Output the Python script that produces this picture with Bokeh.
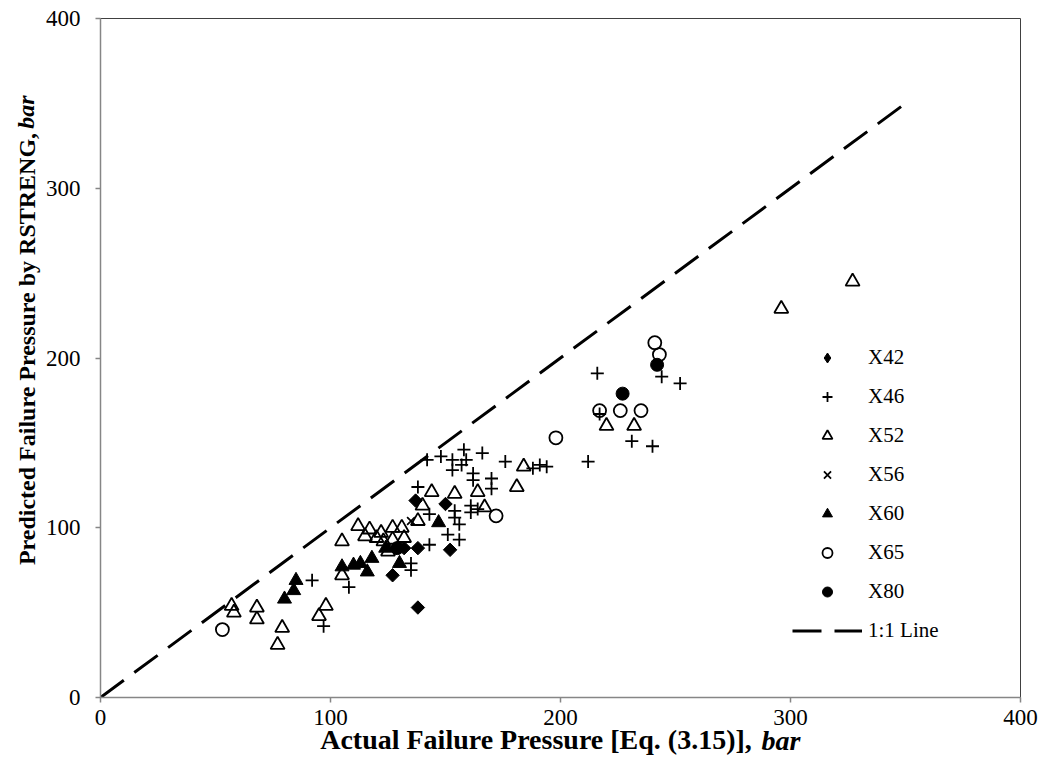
from math import pi
from bokeh.plotting import figure
from bokeh.models import FixedTicker, Legend, LegendItem, LinearAxis, Range1d
from bokeh.embed import file_html
from bokeh.resources import INLINE

# ---------------- data (actual, predicted) in bar ----------------
x42_actual = [127, 132, 137, 138, 138, 150, 152]
x42_pred = [72, 88, 116, 88, 53, 114, 87]

x46_actual = [92, 108, 97, 135, 135, 143, 143, 138, 142, 148, 153, 158, 159, 166,
              153, 157, 162, 162, 170, 170, 176, 188, 191, 194, 212, 216, 217, 231,
              240, 244, 252, 151, 156, 154, 154, 156, 161, 161, 164]
x46_pred = [69, 65, 42, 79, 75, 90, 108, 124, 140, 142, 140, 146, 140, 144,
            134, 137, 132, 128, 129, 123, 139, 135, 137, 136, 139, 191, 167, 151,
            148, 189, 185, 96, 93, 110, 106, 102, 113, 109, 111]

x52_actual = [57, 58, 68, 68, 79, 77, 98, 95, 105, 105, 112, 117, 115, 120, 122,
              127, 127, 131, 132, 125, 123, 138, 140, 144, 154, 164, 167, 181, 184,
              220, 232, 296, 327]
x52_pred = [54, 50, 53, 46, 41, 31, 54, 48, 72, 92, 101, 99, 95, 94, 97,
            100, 93, 100, 94, 86, 92, 104, 113, 121, 120, 121, 112, 124, 136,
            160, 160, 229, 245]

x56_actual = [135]
x56_pred = [104]

x60_actual = [80, 84, 85, 105, 110, 113, 116, 118, 124, 130, 147]
x60_pred = [58, 63, 69, 77, 78, 79, 74, 82, 88, 79, 103]

x65_actual = [53, 172, 198, 217, 226, 235, 241, 243]
x65_pred = [40, 107, 153, 169, 169, 169, 209, 202]

x80_actual = [129, 227, 242]
x80_pred = [88, 179, 196]

line_x = [0, 350]
line_y = [0, 350]

axis_ticks = [0, 100, 200, 300, 400]
series_names = ["X42", "X46", "X52", "X56", "X60", "X65", "X80", "1:1 Line"]

x_title_bold = "Actual Failure Pressure [Eq. (3.15)],"
y_title_bold = "Predicted Failure Pressure by RSTRENG,"
title_unit = "bar"

# ---------------- figure ----------------
W, H = 1043, 778
FL, FR, FT, FB = 100, 1020, 18, 697
p = figure(width=W, height=H, x_range=(0, 400), y_range=(0, 400),
           output_backend="svg", toolbar_location=None,
           min_border_left=FL, min_border_right=W - FR,
           min_border_top=FT, min_border_bottom=H - FB)
p.background_fill_color = "white"
p.border_fill_color = "white"
p.outline_line_color = "#404040"
p.outline_line_width = 1
p.xgrid.visible = False
p.ygrid.visible = False
# off-screen range used only to carry the legend key of the X42 diamonds
p.extra_y_ranges = {"legend_key": Range1d(start=10000, end=10001)}

SERIF = "Liberation Serif"
XTF = 28
YTF = 24
NB = "\u00a0"

for ax in (p.xaxis[0], p.yaxis[0]):
    ax.ticker = FixedTicker(ticks=axis_ticks, minor_ticks=[])
    ax.axis_line_color = "#868686"
    ax.axis_line_width = 1.5
    ax.major_tick_line_color = "#868686"
    ax.major_tick_line_width = 1.5
    ax.major_tick_out = 5
    ax.major_tick_in = 0
    ax.minor_tick_out = 0
    ax.minor_tick_in = 0
    ax.major_label_text_font = SERIF
    ax.major_label_text_font_size = "23px"
    ax.major_label_text_color = "black"
    ax.axis_label_text_font = SERIF
    ax.axis_label_text_font_style = "bold"
    ax.axis_label_text_color = "black"
p.xaxis.axis_label_text_font_size = f"{XTF}px"
p.yaxis.axis_label_text_font_size = f"{YTF}px"
p.xaxis.major_label_standoff = 7
p.yaxis.major_label_standoff = 15

# bold parts (padded with no-break spaces so the italic unit can sit after them)
p.xaxis.axis_label = x_title_bold + NB * 7
p.xaxis.axis_label_standoff = -4
p.yaxis.axis_label = NB * 9 + y_title_bold + NB * 6
p.yaxis.axis_label_standoff = 3


def unit_axis(label, standoff, size):
    a = LinearAxis(ticker=FixedTicker(ticks=[], minor_ticks=[]), axis_label=label,
                   axis_label_standoff=standoff, axis_line_alpha=0,
                   major_tick_out=0, major_tick_in=0, minor_tick_out=0, minor_tick_in=0,
                   major_label_standoff=0)
    a.axis_label_text_font = SERIF
    a.axis_label_text_font_size = f"{size}px"
    a.axis_label_text_font_style = "bold italic"
    a.axis_label_text_color = "black"
    return a

p.add_layout(unit_axis(NB * 63 + title_unit, -33, XTF), "below")
p.add_layout(unit_axis(NB * 82 + title_unit, -28, YTF), "left")

# ---------------- series ----------------
LW = 1.8
r42 = p.scatter(x42_actual, x42_pred, marker="square", angle=pi / 4, size=9.5,
                fill_color="black", line_color="black", line_width=1)
r46 = p.scatter(x46_actual, x46_pred, marker="cross", size=13, line_color="black", line_width=LW)
r52 = p.scatter(x52_actual, x52_pred, marker="triangle", size=14, fill_alpha=0,
                line_color="black", line_width=LW)
r56 = p.scatter(x56_actual, x56_pred, marker="x", size=11, line_color="black", line_width=LW)
r60 = p.scatter(x60_actual, x60_pred, marker="triangle", size=14, fill_color="black",
                line_color="black", line_width=1)
r65 = p.scatter(x65_actual, x65_pred, marker="circle", size=13, fill_alpha=0,
                line_color="black", line_width=LW)
r80 = p.scatter(x80_actual, x80_pred, marker="circle", size=13, fill_color="black",
                line_color="black", line_width=1)
rl = p.line(line_x, line_y, line_color="black", line_width=3, line_dash="29 13")

# legend key for X42 (legend markers are drawn unrotated, so use a diamond marker
# on an off-screen range: it never shows inside the plot frame)
r42_key = p.scatter(x42_actual, x42_pred, marker="diamond", size=14,
                    fill_color="black", line_color="black", line_width=1,
                    y_range_name="legend_key")

# ---------------- legend ----------------
rends = [r42_key, r46, r52, r56, r60, r65, r80, rl]
items = [LegendItem(label=l, renderers=[r]) for l, r in zip(series_names, rends)]
legend = Legend(items=items, location=(792 - FL, 54), orientation="vertical",
                glyph_width=70, glyph_height=25, label_height=25, spacing=14,
                padding=0, margin=0, label_standoff=6,
                label_text_font=SERIF, label_text_font_size="21px",
                label_text_color="black",
                border_line_alpha=0, background_fill_alpha=0)
p.add_layout(legend)

open("out.html", "w").write(file_html(p, INLINE))
